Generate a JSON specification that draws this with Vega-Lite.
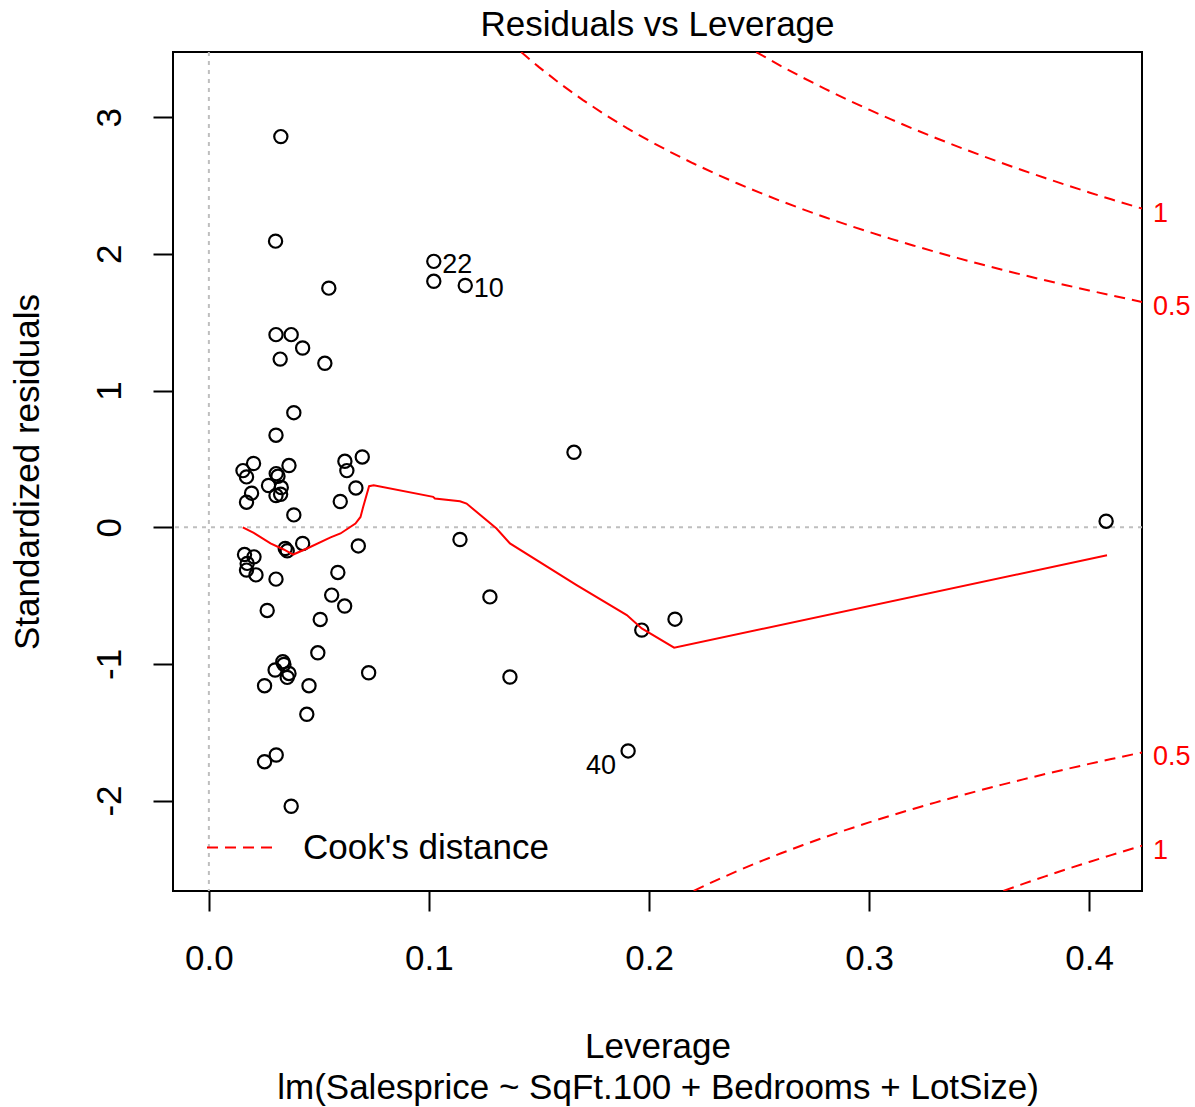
{
"$schema": "https://vega.github.io/schema/vega-lite/v6.json",
"width": 969, "height": 839,
"autosize": {"type": "none"},
"padding": {"left": 173, "top": 52, "right": 53, "bottom": 216},
"background": "white",
"title": {"text": "Residuals vs Leverage", "fontSize": 35, "font": "Liberation Sans", "fontWeight": "normal", "color": "black", "anchor": "middle", "frame": "group", "baseline": "alphabetic", "offset": -20},
"config": {
  "view": {"stroke": "black", "strokeWidth": 2},
  "axis": {"domain": false, "grid": false, "tickColor": "black", "tickWidth": 2, "tickSize": 20, "labelFont": "Liberation Sans", "labelFontSize": 35, "labelColor": "black", "titleFont": "Liberation Sans", "titleFontSize": 35, "titleFontWeight": "normal", "titleColor": "black", "labelFlush": false, "labelOverlap": false},
  "text": {"font": "Liberation Sans"}
},
"datasets": {
  "points": [
    {"h":0.0327,"r":2.858},{"h":0.0303,"r":2.093},{"h":0.0545,"r":1.749},{"h":0.0305,"r":1.409},{"h":0.0374,"r":1.409},
    {"h":0.0426,"r":1.311},{"h":0.0324,"r":1.230},{"h":0.0527,"r":1.199},{"h":0.0386,"r":0.838},{"h":0.0305,"r":0.673},
    {"h":0.0203,"r":0.466},{"h":0.0155,"r":0.414},{"h":0.0171,"r":0.368},{"h":0.0364,"r":0.451},{"h":0.0306,"r":0.392},
    {"h":0.0314,"r":0.373},{"h":0.0271,"r":0.305},{"h":0.0329,"r":0.290},{"h":0.0305,"r":0.232},{"h":0.0326,"r":0.241},
    {"h":0.0194,"r":0.249},{"h":0.0171,"r":0.183},{"h":0.0386,"r":0.090},{"h":0.0618,"r":0.482},{"h":0.0697,"r":0.514},
    {"h":0.0627,"r":0.414},{"h":0.0668,"r":0.287},{"h":0.0597,"r":0.188},{"h":0.0347,"r":-0.156},{"h":0.0356,"r":-0.173},
    {"h":0.0426,"r":-0.119},{"h":0.0162,"r":-0.200},{"h":0.0205,"r":-0.217},{"h":0.0174,"r":-0.265},{"h":0.0171,"r":-0.314},
    {"h":0.0214,"r":-0.349},{"h":0.0305,"r":-0.380},{"h":0.0679,"r":-0.137},{"h":0.0586,"r":-0.331},{"h":0.0558,"r":-0.497},
    {"h":0.0617,"r":-0.577},{"h":0.0265,"r":-0.609},{"h":0.0506,"r":-0.675},{"h":0.0495,"r":-0.919},{"h":0.0336,"r":-0.984},
    {"h":0.0341,"r":-1.004},{"h":0.0301,"r":-1.045},{"h":0.0364,"r":-1.070},{"h":0.0356,"r":-1.099},{"h":0.0253,"r":-1.160},
    {"h":0.0455,"r":-1.160},{"h":0.0726,"r":-1.065},{"h":0.0445,"r":-1.369},{"h":0.0306,"r":-1.667},{"h":0.0253,"r":-1.716},
    {"h":0.0374,"r":-2.042},{"h":0.1022,"r":1.945,"id":"22"},{"h":0.1022,"r":1.799},{"h":0.1165,"r":1.769,"id":"10"},
    {"h":0.1659,"r":0.548},{"h":0.1141,"r":-0.090},{"h":0.1277,"r":-0.510},{"h":0.1368,"r":-1.096},{"h":0.1905,"r":-1.637,"id":"40"},
    {"h":0.1967,"r":-0.753},{"h":0.2118,"r":-0.673},{"h":0.4077,"r":0.044}
  ],
  "smooth": [
    {"h":0.0154,"r":-0.002},{"h":0.0204,"r":-0.042},{"h":0.0280,"r":-0.119},{"h":0.0340,"r":-0.163},{"h":0.0383,"r":-0.200},
    {"h":0.0446,"r":-0.156},{"h":0.0553,"r":-0.075},{"h":0.0598,"r":-0.046},{"h":0.0666,"r":0.027},{"h":0.0689,"r":0.075},
    {"h":0.0701,"r":0.148},{"h":0.0728,"r":0.300},{"h":0.0749,"r":0.307},{"h":0.1019,"r":0.222},{"h":0.1027,"r":0.210},
    {"h":0.1141,"r":0.190},{"h":0.1171,"r":0.173},{"h":0.1307,"r":-0.010},{"h":0.1368,"r":-0.119},{"h":0.1671,"r":-0.424},
    {"h":0.1899,"r":-0.643},{"h":0.1967,"r":-0.741},{"h":0.2114,"r":-0.882},{"h":0.4081,"r":-0.205}
  ],
  "cook": [
    {"c":"u05","k":"Cook's distance","h":0.1419,"r":3.4767},{"c":"u05","k":"Cook's distance","h":0.15,"r":3.3665},{"c":"u05","k":"Cook's distance","h":0.16,"r":3.2404},{"c":"u05","k":"Cook's distance","h":0.17,"r":3.1248},{"c":"u05","k":"Cook's distance","h":0.18,"r":3.0185},{"c":"u05","k":"Cook's distance","h":0.19,"r":2.9199},{"c":"u05","k":"Cook's distance","h":0.20,"r":2.8284},{"c":"u05","k":"Cook's distance","h":0.21,"r":2.7430},{"c":"u05","k":"Cook's distance","h":0.22,"r":2.6628},{"c":"u05","k":"Cook's distance","h":0.23,"r":2.5876},{"c":"u05","k":"Cook's distance","h":0.24,"r":2.5166},{"c":"u05","k":"Cook's distance","h":0.25,"r":2.4495},{"c":"u05","k":"Cook's distance","h":0.26,"r":2.3859},{"c":"u05","k":"Cook's distance","h":0.27,"r":2.3254},{"c":"u05","k":"Cook's distance","h":0.28,"r":2.2678},{"c":"u05","k":"Cook's distance","h":0.29,"r":2.2128},{"c":"u05","k":"Cook's distance","h":0.30,"r":2.1602},{"c":"u05","k":"Cook's distance","h":0.31,"r":2.1099},{"c":"u05","k":"Cook's distance","h":0.32,"r":2.0615},{"c":"u05","k":"Cook's distance","h":0.33,"r":2.0151},{"c":"u05","k":"Cook's distance","h":0.34,"r":1.9704},{"c":"u05","k":"Cook's distance","h":0.35,"r":1.9273},{"c":"u05","k":"Cook's distance","h":0.36,"r":1.8856},{"c":"u05","k":"Cook's distance","h":0.37,"r":1.8454},{"c":"u05","k":"Cook's distance","h":0.38,"r":1.8064},{"c":"u05","k":"Cook's distance","h":0.39,"r":1.7686},{"c":"u05","k":"Cook's distance","h":0.40,"r":1.7320},{"c":"u05","k":"Cook's distance","h":0.41,"r":1.6965},{"c":"u05","k":"Cook's distance","h":0.424,"r":1.6483},
    {"c":"u1","k":"Cook's distance","h":0.2487,"r":3.4766},{"c":"u1","k":"Cook's distance","h":0.26,"r":3.3742},{"c":"u1","k":"Cook's distance","h":0.27,"r":3.2886},{"c":"u1","k":"Cook's distance","h":0.28,"r":3.2072},{"c":"u1","k":"Cook's distance","h":0.29,"r":3.1294},{"c":"u1","k":"Cook's distance","h":0.30,"r":3.0550},{"c":"u1","k":"Cook's distance","h":0.31,"r":2.9838},{"c":"u1","k":"Cook's distance","h":0.32,"r":2.9154},{"c":"u1","k":"Cook's distance","h":0.33,"r":2.8498},{"c":"u1","k":"Cook's distance","h":0.34,"r":2.7866},{"c":"u1","k":"Cook's distance","h":0.35,"r":2.7256},{"c":"u1","k":"Cook's distance","h":0.36,"r":2.6666},{"c":"u1","k":"Cook's distance","h":0.37,"r":2.6098},{"c":"u1","k":"Cook's distance","h":0.38,"r":2.5546},{"c":"u1","k":"Cook's distance","h":0.39,"r":2.5012},{"c":"u1","k":"Cook's distance","h":0.40,"r":2.4494},{"c":"u1","k":"Cook's distance","h":0.41,"r":2.3992},{"c":"u1","k":"Cook's distance","h":0.424,"r":2.3310},
    {"c":"l05","k":"Cook's distance","h":0.2203,"r":-2.6606},{"c":"l05","k":"Cook's distance","h":0.23,"r":-2.5876},{"c":"l05","k":"Cook's distance","h":0.24,"r":-2.5166},{"c":"l05","k":"Cook's distance","h":0.25,"r":-2.4495},{"c":"l05","k":"Cook's distance","h":0.26,"r":-2.3859},{"c":"l05","k":"Cook's distance","h":0.27,"r":-2.3254},{"c":"l05","k":"Cook's distance","h":0.28,"r":-2.2678},{"c":"l05","k":"Cook's distance","h":0.29,"r":-2.2128},{"c":"l05","k":"Cook's distance","h":0.30,"r":-2.1602},{"c":"l05","k":"Cook's distance","h":0.31,"r":-2.1099},{"c":"l05","k":"Cook's distance","h":0.32,"r":-2.0615},{"c":"l05","k":"Cook's distance","h":0.33,"r":-2.0151},{"c":"l05","k":"Cook's distance","h":0.34,"r":-1.9704},{"c":"l05","k":"Cook's distance","h":0.35,"r":-1.9273},{"c":"l05","k":"Cook's distance","h":0.36,"r":-1.8856},{"c":"l05","k":"Cook's distance","h":0.37,"r":-1.8454},{"c":"l05","k":"Cook's distance","h":0.38,"r":-1.8064},{"c":"l05","k":"Cook's distance","h":0.39,"r":-1.7686},{"c":"l05","k":"Cook's distance","h":0.40,"r":-1.7320},{"c":"l05","k":"Cook's distance","h":0.41,"r":-1.6965},{"c":"l05","k":"Cook's distance","h":0.424,"r":-1.6483},
    {"c":"l1","k":"Cook's distance","h":0.3610,"r":-2.6609},{"c":"l1","k":"Cook's distance","h":0.37,"r":-2.6098},{"c":"l1","k":"Cook's distance","h":0.38,"r":-2.5546},{"c":"l1","k":"Cook's distance","h":0.39,"r":-2.5012},{"c":"l1","k":"Cook's distance","h":0.40,"r":-2.4494},{"c":"l1","k":"Cook's distance","h":0.41,"r":-2.3992},{"c":"l1","k":"Cook's distance","h":0.424,"r":-2.3310}
  ],
  "cooklab": [
    {"r":2.331,"lab":"1"},{"r":1.648,"lab":"0.5"},{"r":-1.648,"lab":"0.5"},{"r":-2.331,"lab":"1"}
  ]
},
"layer": [
  {
    "data": {"values": [{}]},
    "mark": {"type": "rule", "color": "#BEBEBE", "strokeWidth": 2, "strokeDash": [4, 5]},
    "encoding": {"x": {"datum": 0, "type": "quantitative", "scale": {"domain": [-0.0163, 0.424], "nice": false, "zero": false},
      "axis": {"title": ["Leverage", "lm(Salesprice ~ SqFt.100 + Bedrooms + LotSize)"], "values": [0, 0.1, 0.2, 0.3, 0.4], "format": ".1f", "labelPadding": 30, "titleY": 166, "titleBaseline": "alphabetic", "titleLineHeight": 41}}}
  },
  {
    "data": {"values": [{}]},
    "mark": {"type": "rule", "color": "#BEBEBE", "strokeWidth": 2, "strokeDash": [4, 5]},
    "encoding": {"y": {"datum": 0, "type": "quantitative", "scale": {"domain": [-2.662, 3.477], "nice": false, "zero": false},
      "axis": {"title": "Standardized residuals", "values": [-2, -1, 0, 1, 2, 3], "format": "d", "labelExpr": "replace(datum.label, '\u2212', '-')", "labelAngle": 270, "labelAlign": "center", "labelBaseline": "middle", "labelPadding": 44, "titleX": -135, "titleBaseline": "alphabetic", "titleAngle": 270}}}
  },
  {
    "data": {"name": "points"},
    "mark": {"type": "point", "shape": "circle", "filled": false, "size": 175, "strokeWidth": 2.2, "color": "black", "opacity": 1},
    "encoding": {
      "x": {"field": "h", "type": "quantitative", "scale": {"domain": [-0.0163, 0.424], "nice": false, "zero": false}},
      "y": {"field": "r", "type": "quantitative", "scale": {"domain": [-2.662, 3.477], "nice": false, "zero": false}}
    }
  },
  {
    "data": {"name": "smooth"},
    "mark": {"type": "line", "color": "red", "strokeWidth": 2, "clip": true},
    "encoding": {
      "x": {"field": "h", "type": "quantitative", "scale": {"domain": [-0.0163, 0.424], "nice": false, "zero": false}},
      "y": {"field": "r", "type": "quantitative", "scale": {"domain": [-2.662, 3.477], "nice": false, "zero": false}}
    }
  },
  {
    "data": {"name": "cook"},
    "mark": {"type": "line", "color": "red", "strokeWidth": 2, "clip": true},
    "encoding": {
      "x": {"field": "h", "type": "quantitative", "scale": {"domain": [-0.0163, 0.424], "nice": false, "zero": false}},
      "y": {"field": "r", "type": "quantitative", "scale": {"domain": [-2.662, 3.477], "nice": false, "zero": false}},
      "detail": {"field": "c", "type": "nominal"},
      "strokeDash": {"field": "k", "type": "nominal", "scale": {"domain": ["Cook's distance"], "range": [[11, 7]]},
        "legend": {"orient": "none", "legendX": 33, "legendY": 762, "title": null, "padding": 0, "symbolType": "stroke", "symbolSize": 4225, "symbolStrokeWidth": 2, "symbolStrokeColor": "red", "symbolDash": [11, 7], "labelFontSize": 35, "labelFont": "Liberation Sans", "labelColor": "black", "labelOffset": 30, "labelLimit": 600, "labelBaseline": "middle"}}
    }
  },
  {
    "data": {"name": "cooklab"},
    "mark": {"type": "text", "color": "red", "fontSize": 27, "align": "left", "baseline": "middle", "dx": 11, "dy": 5, "clip": false},
    "encoding": {
      "x": {"value": "width"},
      "y": {"field": "r", "type": "quantitative", "scale": {"domain": [-2.662, 3.477], "nice": false, "zero": false}},
      "text": {"field": "lab", "type": "nominal"}
    }
  },
  {
    "data": {"name": "points"},
    "transform": [{"filter": "datum.id == '22' || datum.id == '10'"}],
    "mark": {"type": "text", "color": "black", "fontSize": 27, "align": "left", "baseline": "middle", "dx": 8.5, "dy": 3.6},
    "encoding": {
      "x": {"field": "h", "type": "quantitative", "scale": {"domain": [-0.0163, 0.424], "nice": false, "zero": false}},
      "y": {"field": "r", "type": "quantitative", "scale": {"domain": [-2.662, 3.477], "nice": false, "zero": false}},
      "text": {"field": "id", "type": "nominal"}
    }
  },
  {
    "data": {"name": "points"},
    "transform": [{"filter": "datum.id == '40'"}],
    "mark": {"type": "text", "color": "black", "fontSize": 27, "align": "right", "baseline": "middle", "dx": -12, "dy": 14.6},
    "encoding": {
      "x": {"field": "h", "type": "quantitative", "scale": {"domain": [-0.0163, 0.424], "nice": false, "zero": false}},
      "y": {"field": "r", "type": "quantitative", "scale": {"domain": [-2.662, 3.477], "nice": false, "zero": false}},
      "text": {"field": "id", "type": "nominal"}
    }
  }
]
}
